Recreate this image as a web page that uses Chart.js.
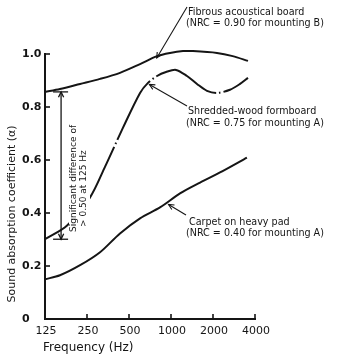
<!DOCTYPE html>
<html>
<head>
<meta charset="utf-8">
<script src="https://cdn.jsdelivr.net/npm/chart.js@4/dist/chart.umd.min.js"></script>
<style>
  html, body { margin: 0; padding: 0; background: #fff; }
  #c { display: block; }
</style>
</head>
<body>
<canvas id="c" width="338" height="361"></canvas>
<script>
// ---- data ----
const freqTicks = [125, 250, 500, 1000, 2000, 4000];
const alphaTicks = [0, 0.2, 0.4, 0.6, 0.8, 1.0];

const fibrousHz    = [125, 160, 223, 310, 431, 600, 794, 984, 1219, 1438, 2136, 2770, 3563];
const fibrousAlpha = [0.857, 0.868, 0.887, 0.906, 0.929, 0.962, 0.992, 1.004, 1.011, 1.011, 1.004, 0.992, 0.974];

const shreddedHz    = [125, 180, 263, 337, 453, 600, 684, 794, 921, 1086, 1302, 1536, 1811, 2136, 2646, 3123, 3563];
const shreddedAlpha = [0.301, 0.353, 0.459, 0.575, 0.722, 0.853, 0.891, 0.917, 0.932, 0.940, 0.917, 0.887, 0.861, 0.853, 0.865, 0.887, 0.910];

const carpetHz    = [125, 160, 223, 310, 431, 600, 834, 1160, 1616, 2245, 3500];
const carpetAlpha = [0.150, 0.165, 0.203, 0.252, 0.323, 0.380, 0.421, 0.474, 0.515, 0.553, 0.609];

const xTitle = 'Frequency (Hz)';
const yTitle = 'Sound absorption coefficient (\u03B1)';

const notes = {
  fibrous:  ['Fibrous acoustical board', '(NRC = 0.90 for mounting B)'],
  shredded: ['Shredded-wood formboard', '(NRC = 0.75 for mounting A)'],
  carpet:   ['Carpet on heavy pad', '(NRC = 0.40 for mounting A)'],
  signif:   ['Significant difference of', '> 0.50 at 125 Hz']
};
// arrow tips (data coordinates)
const fibrousTip  = [790, 0.985];
const shreddedTip = [700, 0.885];
const carpetTip   = [960, 0.432];
const signifHz = 163;

const INK = '#151515';
const pts = (xs, ys) => xs.map((x, i) => ({ x: x, y: ys[i] }));

function arrowHead(ctx, x1, y1, x2, y2, len) {
  const a = Math.atan2(y2 - y1, x2 - x1);
  ctx.beginPath();
  ctx.moveTo(x2 - len * Math.cos(a - 0.45), y2 - len * Math.sin(a - 0.45));
  ctx.lineTo(x2, y2);
  ctx.lineTo(x2 - len * Math.cos(a + 0.45), y2 - len * Math.sin(a + 0.45));
  ctx.stroke();
}
function arrow(ctx, x1, y1, x2, y2) {
  ctx.beginPath(); ctx.moveTo(x1, y1); ctx.lineTo(x2, y2); ctx.stroke();
  arrowHead(ctx, x1, y1, x2, y2, 6);
}

const decor = {
  id: 'decor',
  afterDraw(chart) {
    const ctx = chart.ctx, xs = chart.scales.x, ys = chart.scales.y, ca = chart.chartArea;
    ctx.save();
    ctx.strokeStyle = INK; ctx.fillStyle = INK;
    // inward ticks
    ctx.lineWidth = 1.6;
    alphaTicks.forEach(v => {
      if (v === 0) return;
      const py = ys.getPixelForValue(v);
      ctx.beginPath(); ctx.moveTo(ca.left, py); ctx.lineTo(ca.left + 5, py); ctx.stroke();
    });
    freqTicks.forEach((f, i) => {
      if (i === 0) return;
      const px = xs.getPixelForValue(f);
      ctx.beginPath(); ctx.moveTo(px, ca.bottom); ctx.lineTo(px, ca.bottom - 5); ctx.stroke();
    });
    // y tick labels
    ctx.font = 'bold 11px "DejaVu Sans"';
    ctx.textAlign = 'left'; ctx.textBaseline = 'middle';
    alphaTicks.forEach(v => {
      const py = ys.getPixelForValue(v);
      ctx.fillText(v === 0 ? '0' : v.toFixed(1), 22, py);
    });
    // x tick labels
    ctx.font = '11px "DejaVu Sans"';
    ctx.textAlign = 'center';
    freqTicks.forEach(f => ctx.fillText(String(f), xs.getPixelForValue(f) + 1, 331));
    // axis titles
    ctx.font = '12px "DejaVu Sans"';
    ctx.textAlign = 'left';
    ctx.fillText(xTitle, 43, 348);
    ctx.save();
    ctx.translate(12, 214); ctx.rotate(-Math.PI / 2);
    ctx.textAlign = 'center';
    ctx.font = '11px "DejaVu Sans"';
    ctx.fillText(yTitle, 0, 0);
    ctx.restore();

    // annotations
    ctx.font = '9.6px "DejaVu Sans"';
    ctx.textAlign = 'left';
    ctx.lineWidth = 1.1;
    ctx.fillText(notes.fibrous[0], 188, 12);
    ctx.fillText(notes.fibrous[1], 186, 23);
    arrow(ctx, 187, 7, xs.getPixelForValue(fibrousTip[0]), ys.getPixelForValue(fibrousTip[1]));

    ctx.fillText(notes.shredded[0], 188, 111);
    ctx.fillText(notes.shredded[1], 186, 123);
    arrow(ctx, 187, 106, xs.getPixelForValue(shreddedTip[0]), ys.getPixelForValue(shreddedTip[1]));

    ctx.fillText(notes.carpet[0], 189, 222);
    ctx.fillText(notes.carpet[1], 186, 233);
    arrow(ctx, 186, 215, xs.getPixelForValue(carpetTip[0]), ys.getPixelForValue(carpetTip[1]));

    // significance double arrow
    const sx = xs.getPixelForValue(signifHz);
    const yTop = ys.getPixelForValue(fibrousAlpha[0]);
    const yBot = ys.getPixelForValue(shreddedAlpha[0]);
    ctx.lineWidth = 1.3;
    ctx.beginPath(); ctx.moveTo(sx, yTop); ctx.lineTo(sx, yBot); ctx.stroke();
    arrowHead(ctx, sx, yBot, sx, yTop, 6);
    arrowHead(ctx, sx, yTop, sx, yBot, 6);
    ctx.beginPath(); ctx.moveTo(sx - 8, yTop); ctx.lineTo(sx + 7, yTop); ctx.stroke();
    ctx.beginPath(); ctx.moveTo(sx - 8, yBot); ctx.lineTo(sx + 7, yBot); ctx.stroke();
    ctx.save();
    ctx.font = '9px "DejaVu Sans"';
    ctx.translate(74, 232); ctx.rotate(-Math.PI / 2);
    ctx.textAlign = 'left'; ctx.textBaseline = 'middle';
    const w0 = ctx.measureText(notes.signif[0]).width;
    const w1 = ctx.measureText(notes.signif[1]).width;
    ctx.fillStyle = '#fff';
    ctx.fillRect(-1, -5, w0 + 2, 10);
    ctx.fillRect(4, 5, w1 + 2, 11);
    ctx.fillStyle = INK;
    ctx.fillText(notes.signif[0], 0, 0);
    ctx.fillText(notes.signif[1], 5, 10);
    ctx.restore();
    ctx.restore();
  }
};

const lineStyle = {
  borderColor: INK, borderWidth: 2, pointRadius: 0, fill: false,
  tension: 0.3, clip: false
};

new Chart(document.getElementById('c'), {
  type: 'line',
  data: {
    datasets: [
      Object.assign({ label: notes.fibrous[0], data: pts(fibrousHz, fibrousAlpha) }, lineStyle),
      Object.assign({ label: notes.shredded[0], data: pts(shreddedHz, shreddedAlpha),
                      borderDash: [68, 3, 1.5, 3], borderDashOffset: 25 }, lineStyle),
      Object.assign({ label: notes.carpet[0], data: pts(carpetHz, carpetAlpha) }, lineStyle)
    ]
  },
  options: {
    responsive: false, animation: false, devicePixelRatio: 1,
    layout: { padding: { left: 45, right: 83, top: 54, bottom: 42 } },
    plugins: { legend: { display: false }, tooltip: { enabled: false } },
    scales: {
      x: {
        type: 'logarithmic', min: 125, max: 4000,
        afterBuildTicks: s => { s.ticks = freqTicks.map(v => ({ value: v })); },
        afterFit: s => { s.height = 0; },
        ticks: { display: false },
        grid: { drawOnChartArea: false, drawTicks: false },
        border: { color: INK, width: 2 }
      },
      y: {
        type: 'linear', min: 0, max: 1,
        afterBuildTicks: s => { s.ticks = alphaTicks.map(v => ({ value: v })); },
        afterFit: s => { s.width = 0; },
        ticks: { display: false },
        grid: { drawOnChartArea: false, drawTicks: false },
        border: { color: INK, width: 2 }
      }
    }
  },
  plugins: [decor]
});
</script>
</body>
</html>
